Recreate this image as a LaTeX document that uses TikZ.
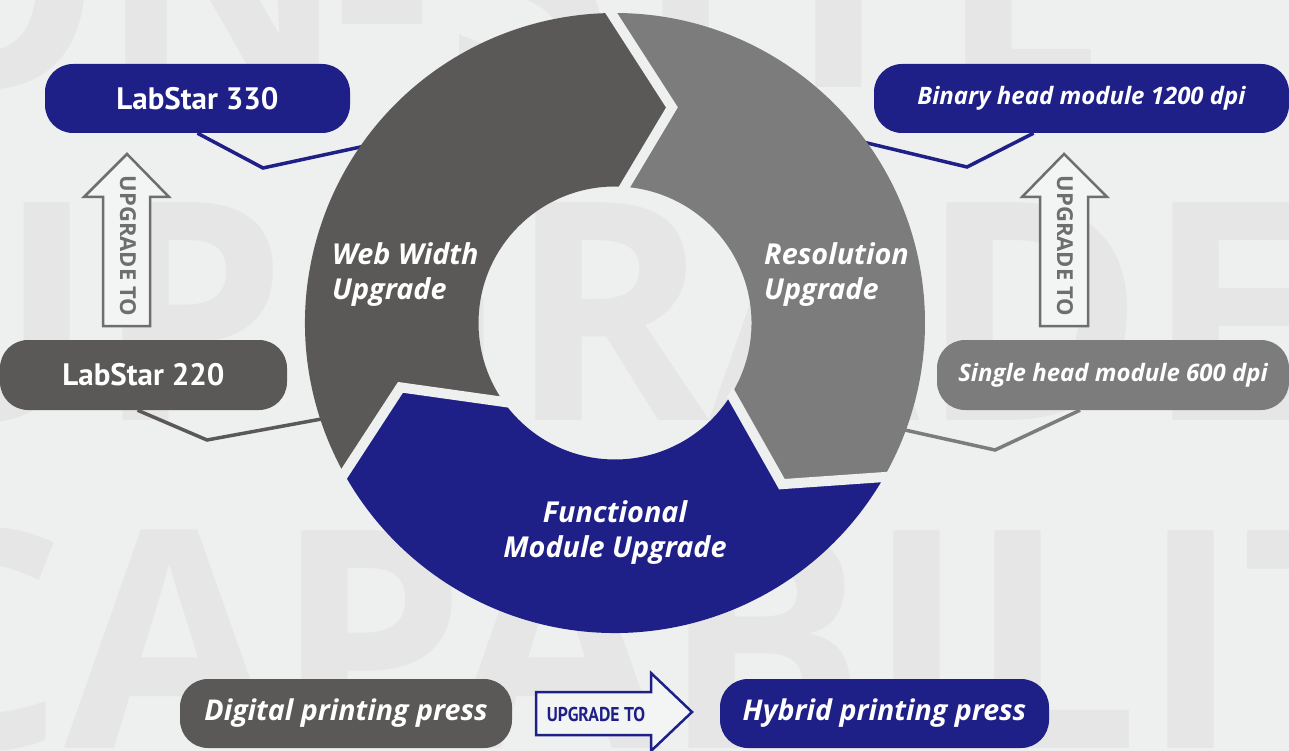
\documentclass[tikz,border=0pt]{standalone}
\usepackage{fontspec}
\setmainfont{PT Sans}
\newfontfamily\wmfont{Open Sans}
\newfontfamily\itfont{Open Sans}
\usetikzlibrary{calc}
\definecolor{navy}{HTML}{1F2087}
\definecolor{darkg}{HTML}{5A5958}
\definecolor{lightg}{HTML}{7C7C7C}
\definecolor{bgc}{HTML}{EEF0EF}
\definecolor{wmc}{HTML}{E5E6E5}
\definecolor{arrg}{HTML}{6E6E6E}
\begin{document}
\begin{tikzpicture}[x=1pt,y=-1pt,
  box/.style={rectangle, rounded corners=28pt, inner sep=0pt, text=white, minimum height=69pt},
  uplbl/.style={font=\fontsize{31}{34}\selectfont\bfseries},
  itlbl/.style={font=\itfont\fontsize{24}{28}\selectfont\bfseries\itshape},
  btlbl/.style={font=\itfont\fontsize{28.6}{30}\selectfont\bfseries\itshape},
  ringlbl/.style={text=white, inner sep=0pt, font=\itfont\fontsize{28.8}{34}\selectfont\bfseries\itshape},
  wm/.style={text=wmc, inner sep=0pt, anchor=base west, font=\wmfont\bfseries\fontsize{305}{305}\selectfont},
  lnk/.style={line width=3.5pt, line join=miter},
  arrowshape/.style={line width=2.5pt, fill=bgc!70!white, line join=miter},
  gapline/.style={draw=bgc, line width=10pt, line join=miter}
]
\useasboundingbox (0,0) rectangle (1289,751);
\clip (0,0) rectangle (1289,751);
\fill[bgc] (0,0) rectangle (1289,751);

% watermark letters
\node[wm] (w1) at (-140,88) {O};
\node[wm] (w2) at (98,88) {N};
\node[wm] (w3) at (333,88) {-};
\node[wm] (w4) at (445,88) {S};
\node[wm] (w5) at (635,88) {I};
\node[wm] (w6) at (750,88) {T};
\node[wm] (w7) at (938,88) {E};
\node[wm] (wup) at (-135,420) {UPGRADE};
\node[wm] (wcap) at (-130,748) {CAPABILITY};

% boxes
\node[box, fill=navy, minimum width=305pt, uplbl] (lab330) at (197.5,98.5) {LabStar 330};
\node[box, fill=darkg, minimum width=287pt, minimum height=70pt, uplbl] (lab220) at (143.5,375) {LabStar 220};
\node[box, fill=navy, minimum width=415pt, itlbl] (binary) at (1081.5,98.5) {Binary head module 1200 dpi};
\node[box, fill=lightg, minimum width=352pt, minimum height=70pt, itlbl] (single) at (1113,375) {Single head module 600 dpi};
\node[box, fill=darkg, minimum width=332pt, btlbl] (digital) at (346,713.5) {Digital printing press};
\node[box, fill=navy, minimum width=329pt, btlbl] (hybrid) at (884.5,713.5) {Hybrid printing press};

% connector elbows and ends
\coordinate (e1) at (263,168);
\coordinate (r1) at (380,142.8);
\coordinate (e2) at (207,440);
\coordinate (r2) at (340,415.6);
\coordinate (e3) at (967,167);
\coordinate (r3) at (850,138.9);
\coordinate (e4) at (995,450);
\coordinate (r4) at (890,426.7);
\draw[lnk, navy] (lab330.south) -- (e1) -- (r1);
\draw[lnk, darkg] ($(lab220.south)+(-6,0)$) -- (e2) -- (r2);
\draw[lnk, navy] ($(binary.south)+(-48,0)$) -- (e3) -- (r3);
\draw[lnk, lightg] ($(single.south)+(-33,0)$) -- (e4) -- (r4);

% upgrade arrows
\draw[arrowshape, draw=arrg] (103,326) -- (103,197) -- (84,197) -- (127,154) -- (169,197) -- (150,197) -- (150,326) -- cycle;
\node[rotate=-90, text=arrg, font=\wmfont\bfseries\fontsize{22}{22}\selectfont] (upL) at (128,246) {UPGRADE TO};
\draw[arrowshape, draw=arrg] (1040,326) -- (1040,197) -- (1022,197) -- (1064,154) -- (1107,197) -- (1088,197) -- (1088,326) -- cycle;
\node[rotate=-90, text=arrg, font=\wmfont\bfseries\fontsize{22}{22}\selectfont] (upR) at (1065,246) {UPGRADE TO};
\draw[arrowshape, draw=navy] (536,692) -- (651,692) -- (651,673) -- (692,712) -- (651,751) -- (651,735) -- (536,735) -- cycle;
\node[text=navy, xscale=0.88, font=\fontsize{20}{20}\selectfont\bfseries] (upB) at (596,714) {UPGRADE TO};

% ring
\begin{scope}[shift={(615,323)}]
  \fill[darkg] (150.9:310) arc[start angle=150.9, end angle=269.3, radius=310]
     -- (284.8:223) -- (274:136.5) arc[start angle=274, end angle=144.7, radius=136.5]
     -- (163.3:224) -- cycle;
  \fill[lightg] (269.3:310) arc[start angle=269.3, end angle=389.8, radius=310]
     -- (404:232) -- (391.6:136.5) arc[start angle=391.6, end angle=274, radius=136.5]
     -- (284.8:223) -- cycle;
  \fill[navy] (29.8:310) arc[start angle=29.8, end angle=150.9, radius=310]
     -- (163.3:224) -- (144.7:136.5) arc[start angle=144.7, end angle=31.6, radius=136.5]
     -- (44:232) -- cycle;
  \begin{scope}[even odd rule]
    \clip (0,0) circle[radius=312] (0,0) circle[radius=134];
    \draw[gapline] ($(284.8:223)!1.3!(269.3:310)$) -- (284.8:223) -- ($(284.8:223)!1.3!(274:136.5)$);
    \draw[gapline] ($(404:232)!1.3!(389.8:310)$) -- (404:232) -- ($(404:232)!1.3!(391.6:136.5)$);
    \draw[gapline] ($(163.3:224)!1.3!(150.9:310)$) -- (163.3:224) -- ($(163.3:224)!1.3!(144.7:136.5)$);
  \end{scope}
\end{scope}

% ring labels
\node[ringlbl, anchor=base west] (ww1) at (332,265) {Web Width};
\node[ringlbl, anchor=base west] (ww2) at (332,299) {Upgrade};
\node[ringlbl, anchor=base west] (rs1) at (764,265) {Resolution};
\node[ringlbl, anchor=base west] (rs2) at (764,299) {Upgrade};
\node[ringlbl, anchor=base] (fm1) at (615,522) {Functional};
\node[ringlbl, anchor=base] (fm2) at (615,557) {Module Upgrade};
\end{tikzpicture}
\end{document}
